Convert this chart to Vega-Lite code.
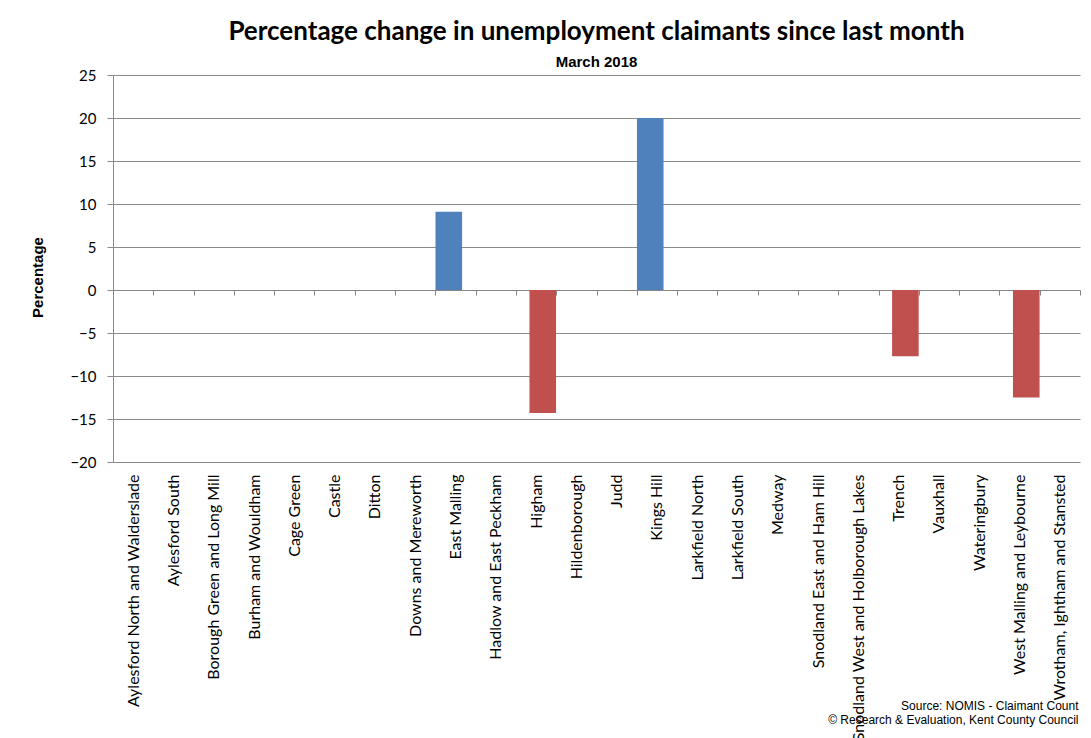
{
  "$schema": "https://vega.github.io/schema/vega-lite/v6.json",
  "width": 967,
  "height": 387,
  "autosize": "none",
  "padding": {"left": 113, "top": 75, "right": 11, "bottom": 276},
  "background": "white",
  "title": {
    "text": "Percentage change in unemployment claimants since last month",
    "subtitle": "March 2018",
    "font": "Lato",
    "fontSize": 26,
    "fontWeight": "bold",
    "color": "black",
    "subtitleFont": "Liberation Sans",
    "subtitleFontSize": 15,
    "subtitleFontWeight": "bold",
    "subtitleColor": "black",
    "anchor": "middle",
    "offset": -2,
    "subtitlePadding": 10
  },
  "data": {
    "values": [
      {"ward": "Aylesford North and Walderslade", "value": 0},
      {"ward": "Aylesford South", "value": 0},
      {"ward": "Borough Green and Long Mill", "value": 0},
      {"ward": "Burham and Wouldham", "value": 0},
      {"ward": "Cage Green", "value": 0},
      {"ward": "Castle", "value": 0},
      {"ward": "Ditton", "value": 0},
      {"ward": "Downs and Mereworth", "value": 0},
      {"ward": "East Malling", "value": 9.1},
      {"ward": "Hadlow and East Peckham", "value": 0},
      {"ward": "Higham", "value": -14.3},
      {"ward": "Hildenborough", "value": 0},
      {"ward": "Judd", "value": 0},
      {"ward": "Kings Hill", "value": 20},
      {"ward": "Larkfield North", "value": 0},
      {"ward": "Larkfield South", "value": 0},
      {"ward": "Medway", "value": 0},
      {"ward": "Snodland East and Ham Hill", "value": 0},
      {"ward": "Snodland West and Holborough Lakes", "value": 0},
      {"ward": "Trench", "value": -7.7},
      {"ward": "Vauxhall", "value": 0},
      {"ward": "Wateringbury", "value": 0},
      {"ward": "West Malling and Leybourne", "value": -12.5},
      {"ward": "Wrotham, Ightham and Stansted", "value": 0}
    ]
  },
  "mark": {
    "type": "bar",
    "width": {"band": 0.66},
    "xOffset": {"expr": "datum.value < 0 ? 6.7 : -6.7"}
  },
  "encoding": {
    "x": {
      "field": "ward",
      "type": "nominal",
      "sort": null,
      "scale": {"paddingInner": 0, "paddingOuter": 0},
      "axis": {
        "title": ["Source: NOMIS - Claimant Count", "© Research & Evaluation, Kent County Council"],
        "offset": -172,
        "domainColor": "#868686",
        "tickColor": "#868686",
        "tickSize": 5,
        "tickBand": "extent",
        "labelAngle": -90,
        "labelPadding": 179,
        "labelLimit": 0,
        "labelFont": "Lato",
        "labelFontSize": 16,
        "labelColor": "black",
        "titleFont": "Liberation Sans",
        "titleFontSize": 12,
        "titleFontWeight": "normal",
        "titleColor": "black",
        "titleAnchor": "end",
        "titleAlign": "right",
        "titleBaseline": "alphabetic",
        "titleX": 965,
        "titleY": 419,
        "titleLineHeight": 14
      }
    },
    "y": {
      "field": "value",
      "type": "quantitative",
      "scale": {"domain": [-20, 25], "nice": false},
      "axis": {
        "values": [-20, -15, -10, -5, 0, 5, 10, 15, 20, 25],
        "grid": true,
        "gridColor": "#8a8a8a",
        "domainColor": "#8a8a8a",
        "tickColor": "#8a8a8a",
        "tickSize": 6,
        "labelPadding": 11,
        "labelFont": "Lato",
        "labelFontSize": 15,
        "labelColor": "black",
        "title": "Percentage",
        "titleFont": "Liberation Sans",
        "titleFontSize": 15,
        "titleFontWeight": "bold",
        "titleColor": "black",
        "titlePadding": 24,
        "titleY": 202
      }
    },
    "color": {
      "condition": {"test": "datum.value < 0", "value": "#C0504D"},
      "value": "#4F81BD"
    }
  },
  "config": {"view": {"stroke": null}}
}
